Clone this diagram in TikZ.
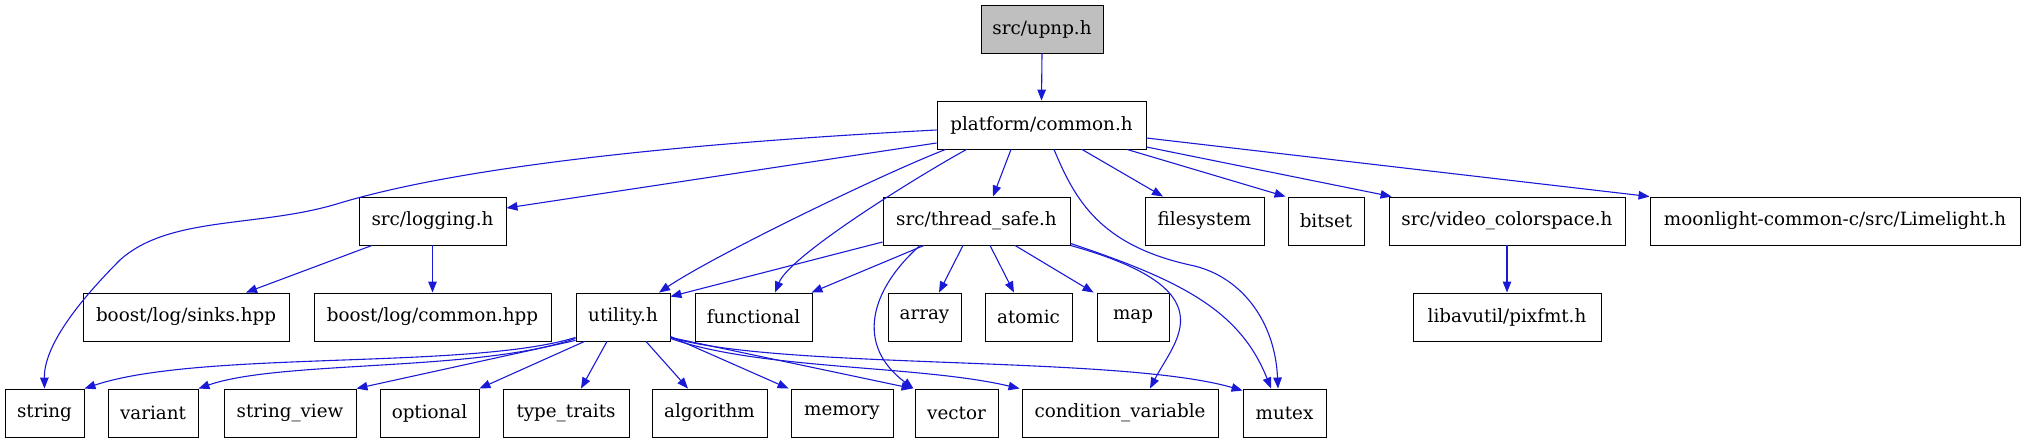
\documentclass[tikz,border=0pt]{standalone}
\usepackage{fontspec}
\setmainfont{DejaVu Serif}
\usetikzlibrary{arrows.meta}
\definecolor{edgeblue}{RGB}{26,26,214}
\definecolor{boxgray}{RGB}{191,191,191}
\tikzset{
  filebox/.style={draw=black, line width=0.9pt, fill=white, inner sep=0pt,
    minimum height=48pt, font=\fontsize{18.3}{21}\selectfont},
  dep/.style={draw=edgeblue, line width=1.1pt, -{Triangle[length=11pt,width=8.5pt]}},
}
\begin{document}
\begin{tikzpicture}[x=1pt,y=-1pt]
\useasboundingbox (0,0) rectangle (2026,443);
% row 0
\node[filebox, fill=boxgray, minimum width=122pt] (upnp) at (1042,29) {src/upnp.h};
% row 1
\node[filebox, minimum width=209pt] (plat) at (1041.5,125) {platform/common.h};
% row 2
\node[filebox, minimum width=147pt] (logging) at (432.5,221) {src/logging.h};
\node[filebox, minimum width=187pt] (thread) at (976.5,221) {src/thread\_safe.h};
\node[filebox, minimum width=119pt] (fs) at (1204.5,221) {filesystem};
\node[filebox, minimum width=76pt] (bitset) at (1326,221) {bitset};
\node[filebox, minimum width=236pt] (video) at (1507,221) {src/video\_colorspace.h};
\node[filebox, minimum width=370pt] (lime) at (1835,221) {moonlight-common-c/src/Limelight.h};
% row 3
\node[filebox, minimum width=206pt] (sinks) at (186,317) {boost/log/sinks.hpp};
\node[filebox, minimum width=237pt] (common) at (432.5,317) {boost/log/common.hpp};
\node[filebox, minimum width=94pt] (utility) at (623,317) {utility.h};
\node[filebox, minimum width=117pt] (functional) at (753.5,317) {functional};
\node[filebox, minimum width=73pt] (array) at (924.5,317) {array};
\node[filebox, minimum width=87pt] (atomic) at (1028.5,317) {atomic};
\node[filebox, minimum width=72pt] (map) at (1133,317) {map};
\node[filebox, minimum width=188pt] (pixfmt) at (1507,317) {libavutil/pixfmt.h};
% row 4
\node[filebox, minimum width=79pt] (string) at (44.5,413) {string};
\node[filebox, minimum width=90pt] (variant) at (153,413) {variant};
\node[filebox, minimum width=132pt] (sview) at (290,413) {string\_view};
\node[filebox, minimum width=99pt] (optional) at (429.5,413) {optional};
\node[filebox, minimum width=126pt] (traits) at (566,413) {type\_traits};
\node[filebox, minimum width=115pt] (algorithm) at (709.5,413) {algorithm};
\node[filebox, minimum width=102pt] (memory) at (842,413) {memory};
\node[filebox, minimum width=83pt] (vector) at (956.5,413) {vector};
\node[filebox, minimum width=196pt] (condvar) at (1120,413) {condition\_variable};
\node[filebox, minimum width=83pt] (mutex) at (1284.5,413) {mutex};

% edges from upnp / platform
\draw[dep] (upnp.south) -- (plat.north);
\draw[dep] ([yshift=-5pt]plat.west) .. controls (650,145) and (450,170) .. (340,203)
  .. controls (260,228) and (170,215) .. (120,260)
  .. controls (70,310) and (44,350) .. (string.north);
\draw[dep] ([yshift=-18pt]plat.west) -- ([yshift=13pt]logging.east);
\draw[dep] ([xshift=9pt]plat.south west) .. controls (880,175) and (715,255) .. ([xshift=36pt]utility.north);
\draw[dep] ([xshift=30pt]plat.south west) .. controls (920,175) and (790,255) .. ([xshift=21.5pt]functional.north);
\draw[dep] ([xshift=-30.5pt]plat.south) -- ([xshift=16.5pt]thread.north);
\draw[dep] ([xshift=12.5pt]plat.south) .. controls (1075,200) and (1100,245) .. (1190,265)
  .. controls (1240,275) and (1275,320) .. ([xshift=-6.5pt]mutex.north);
\draw[dep] ([xshift=40.5pt]plat.south) -- ([xshift=-41.5pt]fs.north);
\draw[dep] ([xshift=85.5pt]plat.south) -- ([xshift=-2pt]bitset.north west);
\draw[dep] ([yshift=-22pt]plat.east) -- ([xshift=3pt]video.north west);
\draw[dep] ([yshift=-13pt]plat.east) -- (lime.north west);

% logging
\draw[dep] ([xshift=-60.5pt]logging.south) -- ([xshift=60pt]sinks.north);
\draw[dep] (logging.south) -- (common.north);

% thread_safe
\draw[dep] ([yshift=-21pt]thread.west) -- ([yshift=-4pt]utility.north east);
\draw[dep] ([xshift=-52.5pt]thread.south) -- ([xshift=-1pt]functional.north east);
\draw[dep] ([xshift=-56.5pt]thread.south) .. controls (870,290) and (855,345) .. ([xshift=-43pt]vector.north);
\draw[dep] ([xshift=-13.5pt]thread.south) -- ([xshift=14.5pt]array.north);
\draw[dep] ([xshift=13.5pt]thread.south) -- ([xshift=-14.5pt]atomic.north);
\draw[dep] ([xshift=38.5pt]thread.south) -- ([xshift=-3pt]map.north west);
\draw[dep] (thread.south east) .. controls (1230,290) and (1175,340) .. ([xshift=30pt]condvar.north);
\draw[dep] ([yshift=2pt]thread.south east) .. controls (1180,280) and (1240,310) .. ([xshift=-13.5pt]mutex.north);

% video
\draw[dep] (video.south) -- (pixfmt.north);

% utility
\draw[dep] ([yshift=4pt]utility.south west) .. controls (470,370) and (200,350) .. (string.north east);
\draw[dep] ([yshift=3pt]utility.south west) .. controls (480,372) and (280,360) .. (variant.north east);
\draw[dep] ([yshift=1pt]utility.south west) -- (sview.north east);
\draw[dep] ([xshift=9pt]utility.south west) -- (optional.north east);
\draw[dep] ([xshift=-16pt]utility.south) -- ([xshift=15pt]traits.north);
\draw[dep] ([xshift=23pt]utility.south) -- ([xshift=-21.5pt]algorithm.north);
\draw[dep] ([yshift=5pt]utility.south east) -- ([xshift=-2pt]memory.north west);
\draw[dep] ([yshift=4pt]utility.south east) -- ([xshift=-2pt]vector.north west);
\draw[dep] ([yshift=3pt]utility.south east) .. controls (760,370) and (920,365) .. ([xshift=-2pt]condvar.north west);
\draw[dep] ([yshift=4pt]utility.south east) .. controls (780,370) and (1120,355) .. ([yshift=-2pt]mutex.north west);
\end{tikzpicture}
\end{document}
